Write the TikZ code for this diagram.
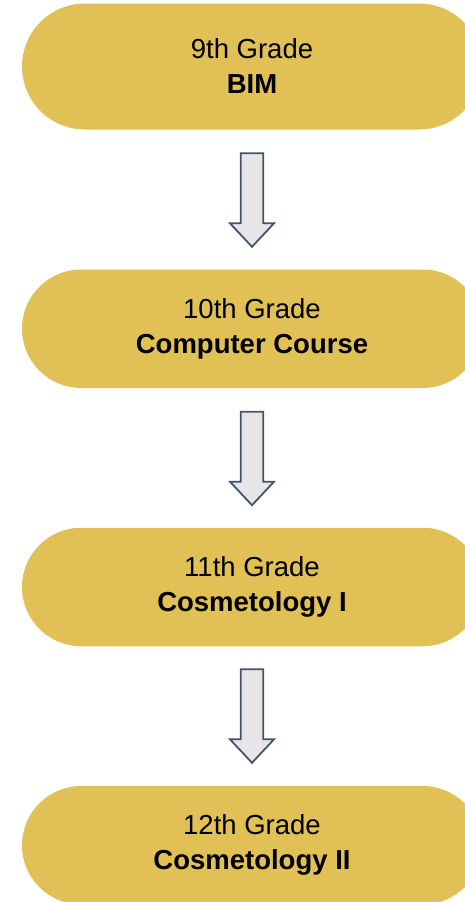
\documentclass[tikz,border=0pt]{standalone}
\usepackage{fontspec}
\setmainfont{Liberation Sans}
\definecolor{gold}{HTML}{E1C056}
\definecolor{arrowfill}{HTML}{E7E6E6}
\definecolor{arrowline}{HTML}{44546A}
\tikzset{
  gradebox/.style={fill=gold, draw=none, minimum width=460pt, align=center,
    font=\fontsize{27.5}{35}\selectfont, text=black, inner sep=0pt},
  blockarrow/.style={fill=arrowfill, draw=arrowline, line width=1.8pt, line join=miter}
}
\newcommand{\blockdown}[1]{%
  \draw[blockarrow] ($(#1)+(-11.3pt,0)$) -- ($(#1)+(11.3pt,0)$) -- ($(#1)+(11.3pt,-70pt)$)
    -- ($(#1)+(22pt,-70pt)$) -- ($(#1)+(0,-93.5pt)$) -- ($(#1)+(-22pt,-70pt)$)
    -- ($(#1)+(-11.3pt,-70pt)$) -- cycle;}
\usetikzlibrary{calc}
\begin{document}
\begin{tikzpicture}[x=1pt,y=1pt]
\useasboundingbox (0,0) rectangle (465,-902);
\node[gradebox, minimum height=126pt, rounded corners=63pt] (g9) at (252,-66.5) {9th Grade\\\textbf{BIM}};
\node[gradebox, minimum height=118.5pt, rounded corners=59.25pt] (g10) at (252,-328.75) {10th Grade\\\textbf{Computer Course}};
\node[gradebox, minimum height=118.5pt, rounded corners=59.25pt] (g11) at (252,-587) {11th Grade\\\textbf{Cosmetology I}};
\node[gradebox, minimum height=118.5pt, rounded corners=59.25pt] (g12) at (252,-845.25) {12th Grade\\\textbf{Cosmetology II}};
\coordinate (a1) at (252,-153.3);
\coordinate (a2) at (252,-411.7);
\coordinate (a3) at (252,-669.3);
\blockdown{a1}
\blockdown{a2}
\blockdown{a3}
\end{tikzpicture}
\end{document}
